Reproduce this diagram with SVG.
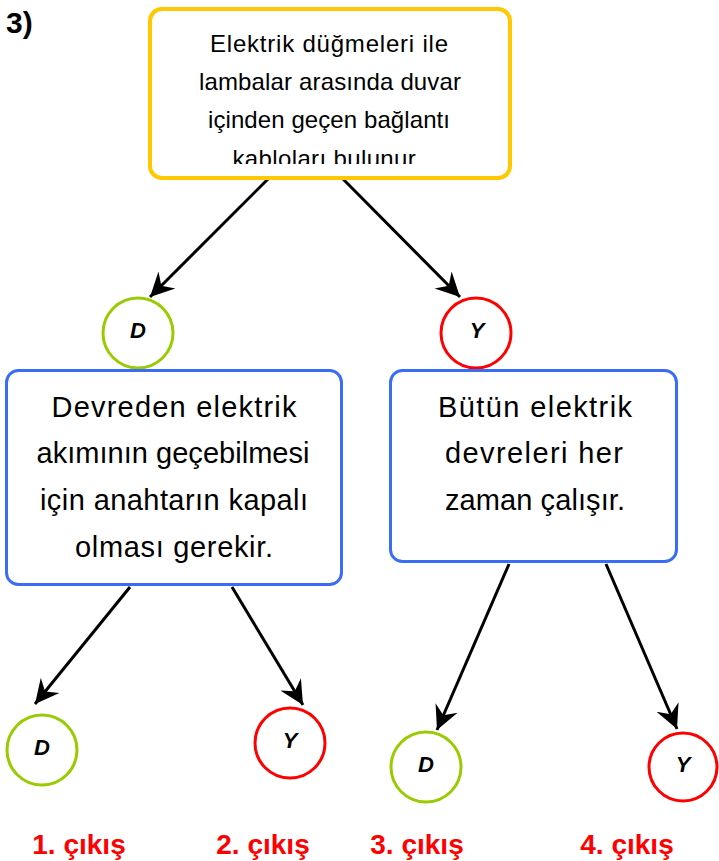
<svg xmlns="http://www.w3.org/2000/svg" width="719" height="861" viewBox="0 0 719 861">
<style>
.box{fill:#fff;stroke-width:3}
.yel{stroke:#FFC800;stroke-width:4}
.blue{stroke:#3A6DF5}
.cg{fill:#fff;stroke:#99CC00;stroke-width:3}
.cr{fill:#fff;stroke:#FF0000;stroke-width:3}
.t{font-family:"Liberation Sans",Arial,sans-serif;fill:#000;text-anchor:middle}
.t1{font-size:24px}
.t2{font-size:29px}
.lt{font-family:"Liberation Sans",Arial,sans-serif;font-weight:bold;font-size:22px;fill:#000;text-anchor:middle;font-style:italic}
.lab{font-family:"Liberation Sans",Arial,sans-serif;font-weight:bold;font-size:28px;fill:#FF0000;text-anchor:middle}
.conn{stroke:#000;stroke-width:3;fill:none;marker-end:url(#ah)}
</style>
<defs>
<marker id="ah" markerUnits="userSpaceOnUse" markerWidth="26" markerHeight="26" refX="24" refY="13" orient="auto" viewBox="0 0 26 26">
<path d="M24,13 L0,1 L8,13 L0,25 Z" fill="#000"/>
</marker>
<clipPath id="clipTop"><rect x="150" y="9" width="360" height="155"/></clipPath>
</defs>
<rect width="719" height="861" fill="#fff"/>
<text x="6" y="33" font-family="Liberation Sans,Arial,sans-serif" font-weight="bold" font-size="30" fill="#000">3)</text>

<g id="connectors">
<line class="conn" x1="269" y1="178" x2="150" y2="297"/>
<line class="conn" x1="342" y1="178" x2="460" y2="297"/>
<line class="conn" x1="130" y1="587" x2="35" y2="704"/>
<line class="conn" x1="232" y1="587" x2="303" y2="705"/>
<line class="conn" x1="509" y1="564" x2="437" y2="730"/>
<line class="conn" x1="606" y1="564" x2="677" y2="729"/>
</g>

<g id="top">
<rect class="box yel" x="150" y="9" width="360" height="169" rx="12"/>
<g clip-path="url(#clipTop)">
<text class="t t1" x="329" y="52" textLength="238" lengthAdjust="spacing">Elektrik düğmeleri ile</text>
<text class="t t1" x="330" y="90" textLength="262" lengthAdjust="spacing">lambalar arasında duvar</text>
<text class="t t1" x="329" y="128" textLength="242" lengthAdjust="spacing">içinden geçen bağlantı</text>
<text class="t t1" x="327" y="167" textLength="189" lengthAdjust="spacing">kabloları bulunur.</text>
</g>
</g>

<g id="d1"><circle class="cg" cx="138" cy="333" r="35"/><text class="lt" x="138" y="338">D</text></g>
<g id="y1"><circle class="cr" cx="476" cy="333" r="35"/><text class="lt" x="477" y="338">Y</text></g>

<g id="left">
<rect class="box blue" x="6.5" y="370.5" width="335" height="214" rx="12"/>
<text class="t t2" x="174" y="417" textLength="245" lengthAdjust="spacing">Devreden elektrik</text>
<text class="t t2" x="173" y="463" textLength="273" lengthAdjust="spacing">akımının geçebilmesi</text>
<text class="t t2" x="174" y="510" textLength="268" lengthAdjust="spacing">için anahtarın kapalı</text>
<text class="t t2" x="174" y="557" textLength="198" lengthAdjust="spacing">olması gerekir.</text>
</g>

<g id="right">
<rect class="box blue" x="390.5" y="370.5" width="286" height="191" rx="12"/>
<text class="t t2" x="535" y="417" textLength="194" lengthAdjust="spacing">Bütün elektrik</text>
<text class="t t2" x="534" y="463" textLength="178" lengthAdjust="spacing">devreleri her</text>
<text class="t t2" x="535" y="510" textLength="180" lengthAdjust="spacing">zaman çalışır.</text>
</g>

<g id="d2"><circle class="cg" cx="42" cy="750" r="35"/><text class="lt" x="42" y="755">D</text></g>
<g id="y2"><circle class="cr" cx="290" cy="743" r="35"/><text class="lt" x="290" y="748">Y</text></g>
<g id="d3"><circle class="cg" cx="426" cy="767" r="35"/><text class="lt" x="426" y="772">D</text></g>
<g id="y3"><circle class="cr" cx="683" cy="767" r="34"/><text class="lt" x="683" y="772">Y</text></g>

<g id="labels">
<text class="lab" x="79" y="854">1. çıkış</text>
<text class="lab" x="263" y="854">2. çıkış</text>
<text class="lab" x="417" y="854">3. çıkış</text>
<text class="lab" x="627" y="854">4. çıkış</text>
</g>
</svg>
